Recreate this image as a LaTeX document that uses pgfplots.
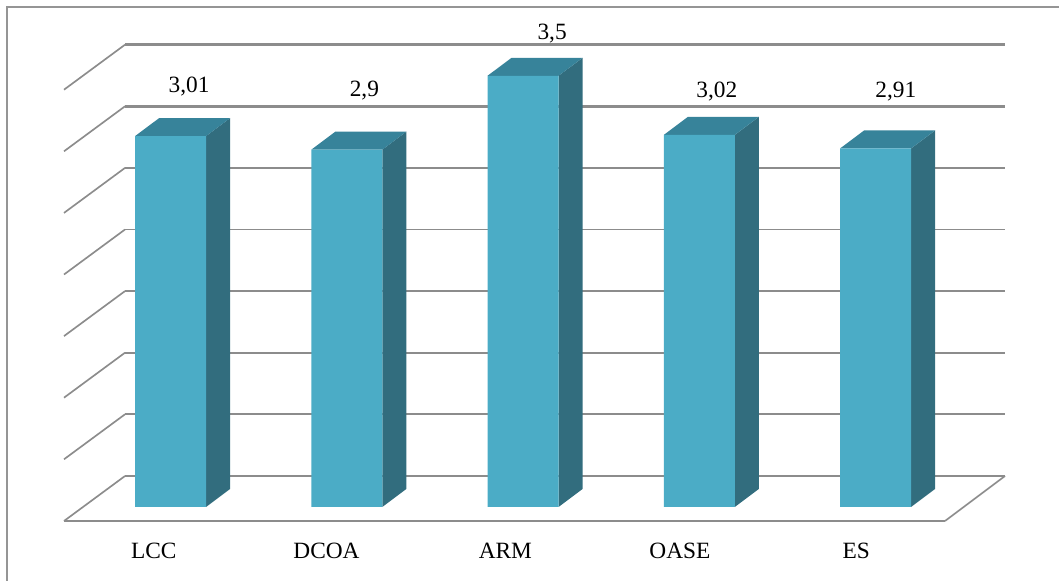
\documentclass[border=0pt]{standalone}
\usepackage{fontspec}
\setmainfont{Liberation Serif}
\usepackage{pgfplots}
\pgfplotsset{compat=1.18}
\definecolor{barfront}{HTML}{4BACC6}
\definecolor{bartop}{HTML}{37839A}
\definecolor{barside}{HTML}{326D7E}
\definecolor{gridgray}{HTML}{8C8C8C}
\definecolor{framegray}{HTML}{959595}

\tikzset{lbl/.style={font=\fontsize{17.5}{20}\selectfont,text=black,inner sep=0pt,anchor=center}}

% depth of the oblique projection, for the bars and for the walls
\newcommand{\barfaces}[2]{%
  \pgfmathsetmacro{\xa}{#1-0.2014}\pgfmathsetmacro{\xb}{#1+0.2014}%
  \pgfmathsetmacro{\xc}{#1+0.3376}\pgfmathsetmacro{\xd}{#1-0.0652}%
  \pgfmathsetmacro{\yt}{#2+0.146}%
  \addplot[fill=barside,draw=none] coordinates {(\xb,0) (\xc,0.146) (\xc,\yt) (\xb,#2)};
  \addplot[fill=bartop,draw=none] coordinates {(\xa,#2) (\xb,#2) (\xc,\yt) (\xd,\yt)};
}
\newcommand{\gridlevel}[2]{%
  \pgfmathsetmacro{\ya}{#1-0.3653}%
  \addplot[gridgray,line width=1.25pt] coordinates {(-0.6043,\ya) (-0.2582,#1)};
  \addplot[gridgray,line width=#2] coordinates {(-0.2582,#1) (4.7348,#1)};
}

\begin{document}
\begin{tikzpicture}
\begin{axis}[
  scale only axis,
  width=794.25pt,
  height=435.75pt,
  xmin=-0.9674, xmax=5.0411,
  ymin=-0.6006, ymax=4.1153,
  axis lines=none,
  clip=true,
]
% keeps the whole plot area on the page
\path (rel axis cs:0,0) rectangle (rel axis cs:1,1);

% outer frame: top and left edges only
\addplot[framegray,line width=1.5pt] coordinates {(-0.9249,-0.6006) (-0.9249,4.0544) (5.0411,4.0544)};

% floor
\addplot[gridgray,line width=1.25pt] coordinates {(-0.2582,0.2516) (4.7348,0.2516)};
\addplot[gridgray,line width=1.25pt] coordinates {(-0.2582,0.2516) (-0.6043,-0.1137)};
\addplot[gridgray,line width=1.25pt] coordinates {(4.7348,0.2516) (4.3943,-0.1137)};
\addplot[gridgray,line width=1.9pt] coordinates {(-0.6043,-0.1137) (4.3943,-0.1137)};

% back wall levels
\gridlevel{0.7524}{1.25pt}
\gridlevel{1.2524}{1.7pt}
\gridlevel{1.7524}{1.25pt}
\gridlevel{2.2524}{1.25pt}
\gridlevel{2.7524}{1.25pt}
\gridlevel{3.2524}{1.9pt}
\gridlevel{3.7524}{1.9pt}

% side and top faces of the columns
\barfaces{0}{3.01}
\barfaces{1}{2.9}
\barfaces{2}{3.5}
\barfaces{3}{3.02}
\barfaces{4}{2.91}

% front faces
\addplot[ybar,bar width=53.25pt,bar shift=0pt,fill=barfront,draw=none]
  coordinates {(0,3.01) (1,2.9) (2,3.5) (3,3.02) (4,2.91)};

% value labels
\node[lbl] at (axis cs:0.105,3.414) {3,01};
\node[lbl] at (axis cs:1.10,3.381) {2,9};
\node[lbl] at (axis cs:2.165,3.84) {3,5};
\node[lbl] at (axis cs:3.10,3.373) {3,02};
\node[lbl] at (axis cs:4.115,3.373) {2,91};

% category labels
\node[lbl] at (axis cs:-0.095,-0.357) {LCC};
\node[lbl] at (axis cs:0.885,-0.357) {DCOA};
\node[lbl] at (axis cs:1.90,-0.357) {ARM};
\node[lbl] at (axis cs:2.89,-0.357) {OASE};
\node[lbl] at (axis cs:3.89,-0.357) {ES};
\end{axis}
\end{tikzpicture}
\end{document}
